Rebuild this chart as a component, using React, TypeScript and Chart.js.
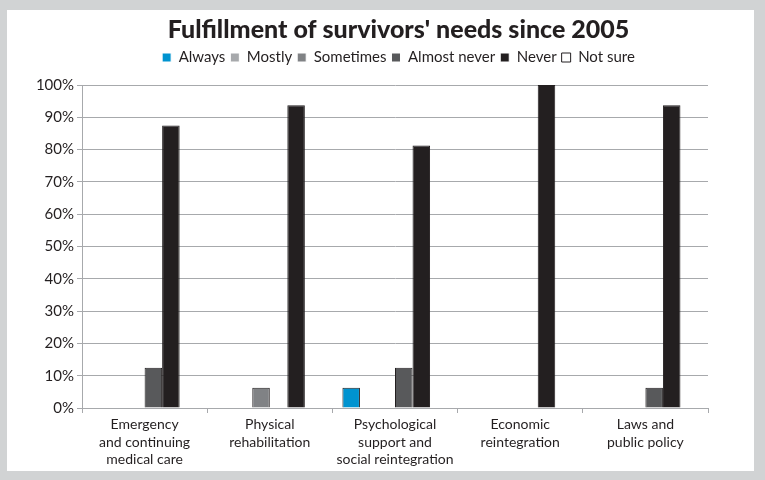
import React, { useEffect, useRef } from "react";
import { Chart, registerables } from "chart.js";

Chart.register(...registerables);

const categories: string[][] = [
  ["Emergency", "and continuing", "medical care"],
  ["Physical", "rehabilitation"],
  ["Psychological", "support and", "social reintegration"],
  ["Economic", "reintegration"],
  ["Laws and", "public policy"],
];

const always = [0, 0, 6.25, 0, 0];
const mostly = [0, 0, 0, 0, 0];
const sometimes = [0, 6.25, 0, 0, 0];
const almostNever = [12.5, 0, 12.5, 0, 6.25];
const never = [87.5, 93.75, 81.25, 100, 93.75];
const notSure = [0, 0, 0, 0, 0];

const seriesNames = ["Always", "Mostly", "Sometimes", "Almost never", "Never", "Not sure"];
const seriesColors = ["#0093d0", "#a7a9ac", "#808285", "#58595b", "#231f20", "#ffffff"];
const seriesValues = [always, mostly, sometimes, almostNever, never, notSure];

const FONT = "Lato, 'Open Sans', sans-serif";
const TEXT = "#231f20";

const headerShift = {
  id: "headerShift",
  beforeLayout(chart: any) {
    const lg = chart.legend;
    if (lg && !lg.__patched) {
      const orig = lg.fit;
      lg.fit = function () {
        orig.call(this);
        this.height += 10;
      };
      lg.__patched = true;
    }
  },
  afterLayout(chart: any) {
    for (const b of [chart.titleBlock, chart.legend]) {
      if (b) {
        b.left += 41;
        b.right += 41;
      }
    }
  },
};

export default function App() {
  const ref = useRef<HTMLCanvasElement | null>(null);
  useEffect(() => {
    if (!ref.current) return;
    const chart = new Chart(ref.current, {
      type: "bar",
      data: {
        labels: categories,
        datasets: seriesNames.map((name, i) => ({
          label: name,
          data: seriesValues[i].map((v) => (v === 0 ? null : v)),
          backgroundColor: seriesColors[i],
          borderColor: "#231f20",
          borderWidth: 1,
          barPercentage: 1,
          categoryPercentage: 0.84,
        })),
      },
      plugins: [headerShift],
      options: {
        animation: false,
        responsive: false,
        maintainAspectRatio: false,
        layout: { padding: { left: 0, right: 46, top: 0, bottom: 0 } },
        plugins: {
          tooltip: { enabled: false },
          title: {
            display: true,
            text: "Fulfillment of survivors' needs since 2005",
            color: TEXT,
            font: { family: FONT, size: 25, weight: "900" },
            padding: { top: 5, bottom: 0 },
          },
          legend: {
            display: true,
            labels: {
              color: TEXT,
              font: { family: FONT, size: 15 },
              boxWidth: 9,
              boxHeight: 9,
              padding: 5,
              generateLabels: (c: any) =>
                c.data.datasets.map((d: any, i: number) => ({
                  text: d.label,
                  fillStyle: d.backgroundColor,
                  strokeStyle: i === 5 ? "#231f20" : "#ffffff",
                  lineWidth: 1,
                  hidden: false,
                  datasetIndex: i,
                  fontColor: TEXT,
                })),
            },
          },
        },
        scales: {
          x: {
            grid: { drawOnChartArea: false, drawTicks: true, tickLength: 5, color: "#a7a9ac" },
            border: { color: "#a7a9ac" },
            ticks: {
              color: TEXT,
              font: { family: FONT, size: 14, lineHeight: 1.25 },
              maxRotation: 0,
              autoSkip: false,
              padding: 3,
            },
            afterFit: (s: any) => {
              s.height = 63;
            },
          },
          y: {
            min: 0,
            max: 100,
            grid: { color: "#a7a9ac", tickLength: 5 },
            border: { color: "#a7a9ac" },
            ticks: {
              stepSize: 10,
              color: TEXT,
              font: { family: FONT, size: 15 },
              padding: 3,
              callback: (v: any) => v + "%",
            },
            afterFit: (s: any) => {
              s.width = 75;
            },
          },
        },
      },
    });
    return () => chart.destroy();
  }, []);
  return (
    <div style={{ position: "fixed", left: 0, top: 0, width: 765, height: 480, background: "#d1d3d4" }}>
      <div style={{ position: "absolute", left: 7, top: 10, width: 747, height: 461, background: "#ffffff" }}>
        <canvas ref={ref} width={747} height={461} style={{ display: "block" }} />
      </div>
    </div>
  );
}
